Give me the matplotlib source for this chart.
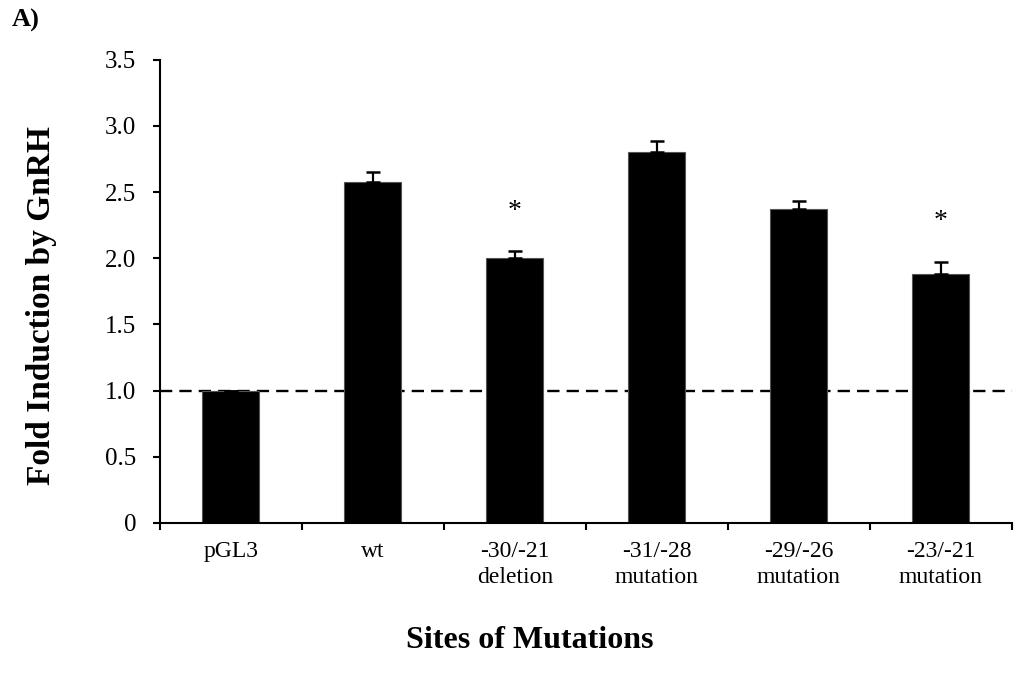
#!/usr/bin/env python3
# -*- coding: utf-8 -*-
"""
Fold induction by GnRH for the promoter constructs (mean + SEM),
with the empty-vector baseline drawn as a dashed line at 1.0.
"""

import matplotlib
matplotlib.use("Agg")
import matplotlib.pyplot as plt
import numpy as np


CONSTRUCTS = [
    "pGL3",
    "wt",
    "-30/-21\ndeletion",
    "-31/-28\nmutation",
    "-29/-26\nmutation",
    "-23/-21\nmutation",
]
FOLD = [1.00, 2.58, 2.00, 2.80, 2.37, 1.88]
SEM = [0.00, 0.07, 0.055, 0.085, 0.06, 0.095]
SIGNIFICANT = [False, False, True, False, False, True]
BASELINE = 1.0
Y_TICKS = [0, 0.5, 1.0, 1.5, 2.0, 2.5, 3.0, 3.5]
Y_TICK_LABELS = ["0", "0.5", "1.0", "1.5", "2.0", "2.5", "3.0", "3.5"]

plt.rcParams["font.family"] = ["Liberation Serif", "DejaVu Serif"]


def main() -> None:
    fig = plt.figure(figsize=(10.18, 6.8), dpi=100)
    ax = fig.add_axes([0.157, 0.231, 0.837, 0.681])

    n = len(CONSTRUCTS)
    x = np.arange(n) + 0.5
    fold = np.array(FOLD)
    sem = np.array(SEM)

    ax.axhline(BASELINE, color="black", linewidth=1.7, linestyle=(0, (5.2, 3.0)), zorder=1)
    ax.bar(x, fold, width=0.4, color="black", edgecolor="#555555", linewidth=0.8, zorder=2)
    ax.errorbar(x, fold, yerr=[np.zeros(n), sem], fmt="none", ecolor="black",
                elinewidth=1.6, capsize=4.8, capthick=1.8, zorder=3)

    for xi, f, s, sig in zip(x, fold, sem, SIGNIFICANT):
        if sig:
            ax.text(xi, f + s + 0.3, "*", ha="center", va="center", fontsize=20)

    ax.set_xlim(0, n)
    ax.set_ylim(0, 3.5)
    ax.set_yticks(Y_TICKS)
    ax.set_yticklabels(Y_TICK_LABELS, fontsize=18)

    # category boundaries carry the tick marks, labels sit at the centres
    ax.set_xticks(np.arange(n + 1))
    ax.set_xticklabels([])
    ax.set_xticks(x, minor=True)
    ax.set_xticklabels(CONSTRUCTS, minor=True, fontsize=17, linespacing=1.3, va="top")
    ax.tick_params(axis="x", which="minor", length=0, pad=13)
    ax.tick_params(axis="x", which="major", direction="out", length=5, width=1.5)
    ax.tick_params(axis="y", direction="out", length=5, width=1.5, pad=12)

    for side in ("top", "right"):
        ax.spines[side].set_visible(False)
    for side in ("left", "bottom"):
        ax.spines[side].set_linewidth(1.5)

    fig.text(42 / 1018, 1 - 306 / 680, "Fold Induction by GnRH", rotation=90,
             ha="center", va="center", fontsize=24, fontweight="bold")
    fig.text(530 / 1018, 1 - 640 / 680, "Sites of Mutations",
             ha="center", va="center", fontsize=23, fontweight="bold")
    fig.text(12 / 1018, 1 - 20 / 680, "A)", ha="left", va="center",
             fontsize=19, fontweight="bold")

    fig.savefig("out.png", dpi=100)
    plt.close(fig)


if __name__ == "__main__":
    main()
